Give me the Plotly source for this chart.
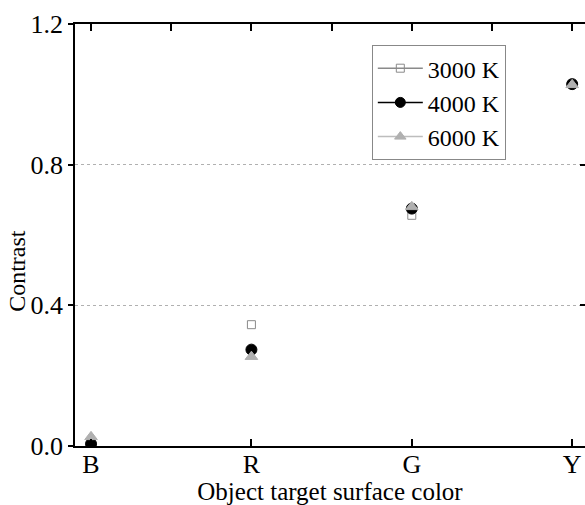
import plotly.graph_objects as go

categories = ["B", "R", "G", "Y"]
cat_pos = [0, 1, 2, 3]
series_names = ["3000 K", "4000 K", "6000 K"]
contrast_3000 = [0.0, 0.345, 0.656, 1.029]
contrast_4000 = [0.006, 0.274, 0.675, 1.029]
contrast_6000 = [0.026, 0.254, 0.68, 1.027]
y_ticks = [0.0, 0.4, 0.8, 1.2]
y_ticktext = ["0.0", "0.4", "0.8", "1.2"]
top_ticks = [0, 0.5, 1, 1.5, 2, 2.5, 3]

FONT = "Liberation Serif, Times New Roman, serif"
styles = [
    dict(symbol="square-open", size=8, color="#8a8a8a", line_color="#8a8a8a", msize_leg=8),
    dict(symbol="circle", size=11, color="#000000", line_color="#000000", msize_leg=10),
    dict(symbol="triangle-up", size=11, color="#b0b0b0", line_color="#bdbdbd", msize_leg=10),
]
values = [contrast_3000, contrast_4000, contrast_6000]

fig = go.Figure()
for i in range(3):
    st = styles[i]
    fig.add_trace(go.Scatter(
        x=cat_pos, y=values[i], mode="markers", showlegend=False,
        marker=dict(symbol=st["symbol"], size=st["size"], color=st["color"],
                    line=dict(width=1, color=st["color"])),
    ))
for i in range(3):
    st = styles[i]
    fig.add_trace(go.Scatter(
        x=[None], y=[None], mode="lines+markers", name=series_names[i],
        line=dict(color=st["line_color"], width=1.5),
        marker=dict(symbol=st["symbol"], size=st["msize_leg"], color=st["color"],
                    line=dict(width=1, color=st["color"])),
    ))

fig.add_trace(go.Scatter(x=[None], y=[None], xaxis="x2", yaxis="y2", showlegend=False))

xr = [-0.1, 3.08]
yr = [0, 1.2]
fig.update_layout(
    width=585, height=505,
    margin=dict(l=75, r=0, t=24, b=59),
    paper_bgcolor="white", plot_bgcolor="white",
    font=dict(family=FONT, size=24, color="black"),
    xaxis=dict(range=xr, tickvals=cat_pos, ticktext=categories, ticks="inside",
               ticklen=7, tickwidth=1.5, tickcolor="black", showline=True,
               linecolor="black", linewidth=1.5, showgrid=False, zeroline=False,
               tickfont=dict(family=FONT, size=26, color="black"),
               ticklabelstandoff=-6,
               title=dict(text="Object target surface color",
                          font=dict(family=FONT, size=25, color="black"), standoff=2)),
    xaxis2=dict(range=xr, overlaying="x", side="top", tickvals=top_ticks,
                ticks="inside", ticklen=7, tickwidth=1.5, tickcolor="black",
                showticklabels=False, showline=True, linecolor="black", linewidth=1.5,
                showgrid=False, zeroline=False),
    yaxis=dict(range=yr, tickvals=y_ticks, ticktext=y_ticktext, ticks="outside",
               ticklen=5, tickwidth=1.5, tickcolor="black", showline=True,
               linecolor="black", linewidth=1.5, showgrid=True, gridcolor="#b0b0b0",
               griddash="dot", gridwidth=1, zeroline=False,
               tickfont=dict(family=FONT, size=26, color="black")),
    yaxis2=dict(range=yr, overlaying="y", side="right", tickvals=y_ticks,
                ticks="inside", ticklen=5, tickwidth=1.5, tickcolor="black",
                showticklabels=False, showline=True, linecolor="black", linewidth=1.5,
                showgrid=False, zeroline=False),
    legend=dict(x=0.582, y=0.95, xanchor="left", yanchor="top",
                bordercolor="#888888", borderwidth=1, bgcolor="white",
                font=dict(family=FONT, size=24, color="black"), itemwidth=45,
                tracegroupgap=0),
    showlegend=True,
    annotations=[dict(text="Contrast", textangle=-90, xref="paper", yref="paper",
                      x=0, y=0.415, xanchor="center", yanchor="middle", xshift=-58,
                      showarrow=False, font=dict(family=FONT, size=24, color="black"))],
)

fig.write_html("out.html")
